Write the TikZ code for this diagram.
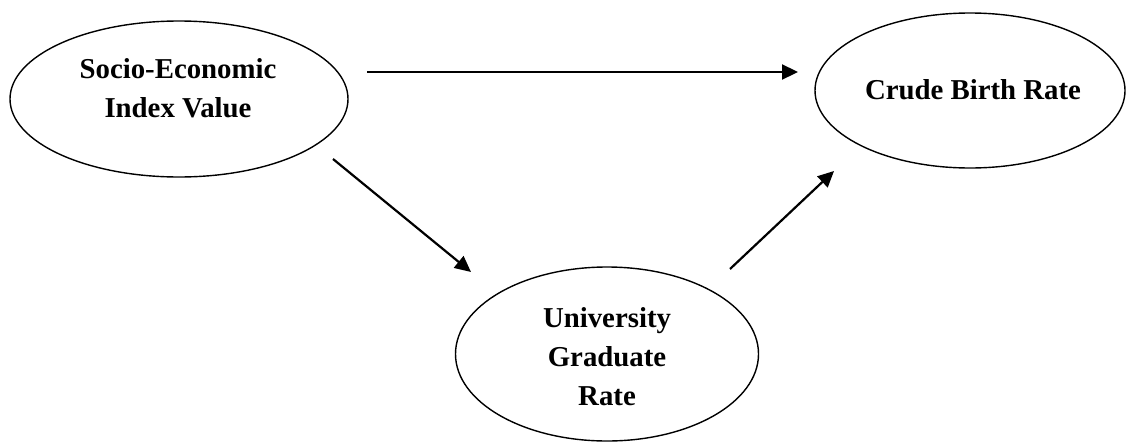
\documentclass[tikz,border=0pt]{standalone}
\usepackage{fontspec}
\setmainfont{Liberation Serif}
\usetikzlibrary{arrows.meta,shapes.geometric}
\begin{document}
\begin{tikzpicture}[x=1pt,y=1pt,
  oval/.style={draw,ellipse,line width=1.4pt,inner sep=0pt},
  lbl/.style={align=center,inner sep=0pt,font=\fontsize{28.8}{39}\selectfont\bfseries},
  arr/.style={line width=2.2pt,-{Triangle[length=16pt,width=15pt]}}]
\useasboundingbox (0,0) rectangle (1126,-442);
\node[oval,minimum width=338pt,minimum height=156pt] (se) at (179,-99) {};
\node[lbl] (setxt) at (178,-88) {Socio-Economic\\Index Value};
\node[oval,minimum width=310pt,minimum height=155pt] (cbr) at (970,-90.5) {};
\node[lbl] (cbrtxt) at (973,-90) {Crude Birth Rate};
\node[oval,minimum width=303pt,minimum height=174pt] (ugr) at (607,-354) {};
\node[lbl] (ugrtxt) at (607,-357) {University\\Graduate\\Rate};
\coordinate (a1s) at (367,-72);
\coordinate (a1e) at (798,-72);
\coordinate (a2s) at (333,-159);
\coordinate (a2e) at (471,-272);
\coordinate (a3s) at (730,-269);
\coordinate (a3e) at (834,-171);
\draw[arr] (a1s) -- (a1e);
\draw[arr] (a2s) -- (a2e);
\draw[arr] (a3s) -- (a3e);
\end{tikzpicture}
\end{document}
